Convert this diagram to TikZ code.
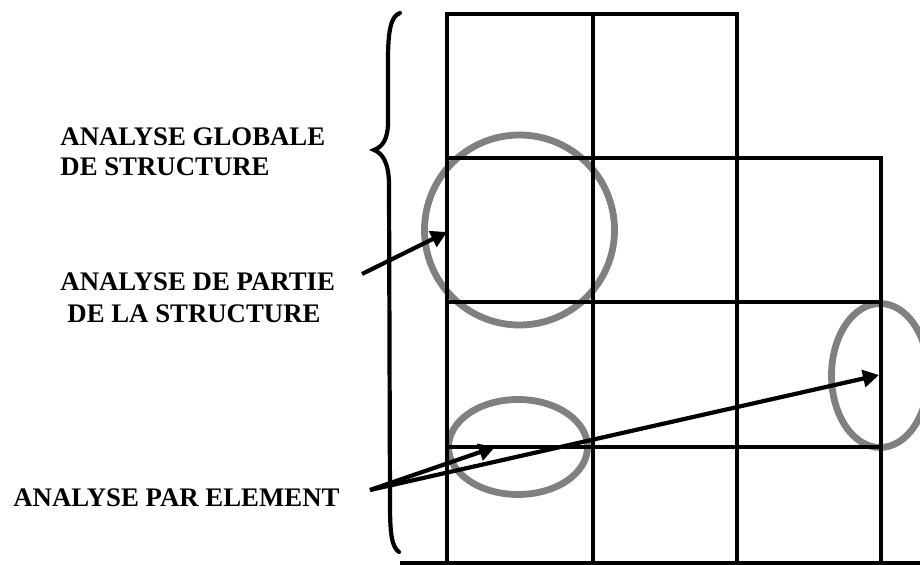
\documentclass[tikz,border=0pt]{standalone}
\usepackage{fontspec}
\setmainfont{Liberation Serif}
\usetikzlibrary{arrows.meta}
\definecolor{ringgray}{HTML}{808080}
\begin{document}
\begin{tikzpicture}[x=0.5pt,y=-0.5pt,
  gridline/.style={line width=1.7pt, line cap=rect},
  ring/.style={draw=ringgray, line width=3.4pt},
  pointer/.style={line width=2.1pt, -{Triangle[length=8pt,width=8.5pt]}},
  bracestyle/.style={line width=2.1pt, line cap=round},
  lbl/.style={font=\fontsize{13.4}{15}\selectfont\bfseries, inner sep=0pt, anchor=base west, align=left}]
\useasboundingbox (0,0) rectangle (920,565);

% highlighted zones
\draw[ring] (519.5,230) circle [radius=95];
\draw[ring] (518,447) ellipse [x radius=69.5, y radius=47.5];
\draw[ring] (880,375.5) ellipse [x radius=48.5, y radius=72];

% structure grid
\draw[gridline] (447,14) -- (447,563);
\draw[gridline] (593,14) -- (593,563);
\draw[gridline] (737,14) -- (737,563);
\draw[gridline] (881,158) -- (881,563);
\draw[gridline] (447,14) -- (737,14);
\draw[gridline] (447,158) -- (881,158);
\draw[gridline] (447,302) -- (881,302);
\draw[gridline] (447,447) -- (881,447);
\draw[line width=2pt] (400,563) -- (920,563);

% brace
\draw[bracestyle] (400,13) .. controls (391,16) and (388,30) .. (388,60)
  -- (388,122) .. controls (388,140) and (382,147) .. (374,150)
  .. controls (382,153) and (389,162) .. (389,185)
  -- (390,505) .. controls (390,535) and (392,547) .. (399,552);

% labels
\node[lbl] (glob) at (60,176) {ANALYSE GLOBALE\\DE STRUCTURE};
\node[lbl] (part) at (60,323) {ANALYSE DE PARTIE\\[1pt]\hspace*{3.5pt}DE LA STRUCTURE};
\node[lbl] (elem) at (13,507) {ANALYSE PAR ELEMENT};

% arrows
\coordinate (partstart) at (362,274);
\coordinate (partend) at (447,232);
\coordinate (elemstart) at (370,490);
\coordinate (elemendA) at (495,447);
\coordinate (elemendB) at (879,375);
\draw[pointer] (partstart) -- (partend);
\draw[pointer] (elemstart) -- (elemendA);
\draw[pointer] (elemstart) -- (elemendB);
\end{tikzpicture}
\end{document}
